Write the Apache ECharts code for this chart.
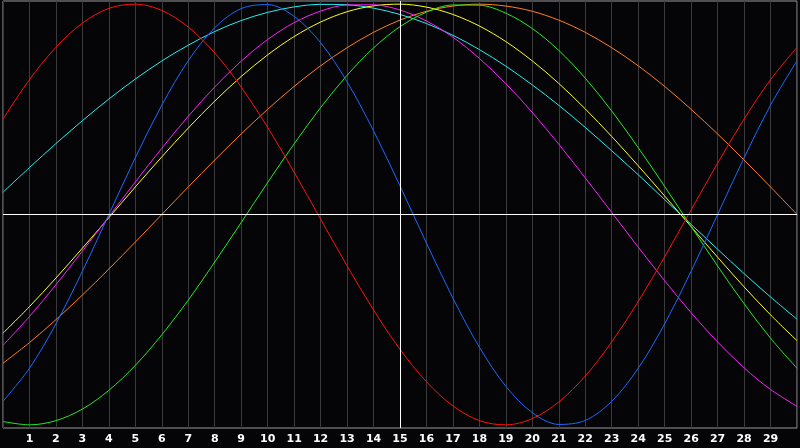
<!DOCTYPE html>
<html lang="en">
<head>
    <meta charset="UTF-8">
    <title>Biorhythm</title>
    <style>
        html, body { margin: 0; padding: 0; background: #050508; }
        #chart { width: 800px; height: 448px; }
    </style>
</head>
<body>
    <div id="chart"></div>
    <script src="https://cdn.jsdelivr.net/npm/echarts@6/dist/echarts.min.js"></script>
    <script>
        // day positions 0..30 (labels shown for 1..29)
        var days = [0, 1, 2, 3, 4, 5, 6, 7, 8, 9, 10, 11, 12, 13, 14, 15, 16, 17, 18, 19, 20, 21, 22, 23, 24, 25, 26, 27, 28, 29, 30];

        var red = [0.454, 0.641, 0.795, 0.910, 0.980, 1.000, 0.970, 0.891, 0.768, 0.606, 0.414, 0.201, -0.022, -0.244, -0.454, -0.641,
            -0.795, -0.910, -0.980, -1.000, -0.970, -0.891, -0.768, -0.606, -0.414, -0.201, 0.022, 0.244, 0.454, 0.641, 0.795];
        var blue = [-0.888, -0.731, -0.520, -0.270, 0, 0.270, 0.520, 0.731, 0.888, 0.979, 0.998, 0.942, 0.817, 0.631, 0.398, 0.136,
            -0.136, -0.398, -0.631, -0.817, -0.942, -0.998, -0.979, -0.888, -0.731, -0.520, -0.270, 0, 0.270, 0.520, 0.731];
        var green = [-0.984, -1.000, -0.980, -0.925, -0.836, -0.717, -0.572, -0.407, -0.226, -0.038, 0.152, 0.336, 0.508, 0.662, 0.792, 0.893,
            0.962, 0.996, 0.995, 0.957, 0.884, 0.780, 0.648, 0.492, 0.318, 0.133, -0.057, -0.245, -0.424, -0.588, -0.731];
        var magenta = [-0.622, -0.485, -0.334, -0.174, -0.010, 0.155, 0.315, 0.467, 0.606, 0.729, 0.832, 0.912, 0.967, 0.996, 0.997, 0.972,
            0.920, 0.843, 0.742, 0.622, 0.485, 0.334, 0.174, 0.010, -0.155, -0.315, -0.467, -0.606, -0.729, -0.832, -0.912];
        var yellow = [-0.564, -0.438, -0.302, -0.160, -0.015, 0.131, 0.274, 0.411, 0.539, 0.656, 0.759, 0.846, 0.915, 0.964, 0.992, 1.000,
            0.986, 0.951, 0.896, 0.822, 0.730, 0.623, 0.502, 0.371, 0.232, 0.088, -0.058, -0.203, -0.344, -0.477, -0.600];
        var orange = [-0.707, -0.609, -0.500, -0.383, -0.259, -0.131, 0, 0.131, 0.259, 0.383, 0.500, 0.609, 0.707, 0.793, 0.866, 0.924,
            0.966, 0.991, 1.000, 0.991, 0.966, 0.924, 0.866, 0.793, 0.707, 0.609, 0.500, 0.383, 0.259, 0.131, 0];
        var cyan = [0.106, 0.223, 0.337, 0.446, 0.549, 0.644, 0.730, 0.805, 0.870, 0.922, 0.961, 0.987, 0.999, 0.997, 0.981, 0.951,
            0.908, 0.852, 0.784, 0.705, 0.616, 0.519, 0.414, 0.303, 0.189, 0.071, -0.047, -0.165, -0.281, -0.392, -0.498];

        function pairs(vals) {
            return days.map(function (d, i) { return [d, vals[i]]; });
        }

        function curve(vals, color) {
            return {
                type: 'line',
                data: pairs(vals),
                smooth: 0.33,
                symbol: 'none',
                silent: true,
                lineStyle: { color: color, width: 1 }
            };
        }

        var series = [
            curve(orange, '#ff8020'),
            curve(cyan, '#20f0f0'),
            curve(yellow, '#ffff20'),
            curve(magenta, '#ff20ff'),
            curve(green, '#20ee20'),
            curve(blue, '#1a6aff'),
            curve(red, '#ff1010')
        ];

        // white cross lines at day 15 and at zero
        series.push({
            type: 'line',
            data: [],
            silent: true,
            markLine: {
                silent: true,
                symbol: 'none',
                label: { show: false },
                lineStyle: { color: '#ffffff', width: 1, type: 'solid' },
                data: [{ xAxis: 15 }, { yAxis: 0 }]
            }
        });

        var chart = echarts.init(document.getElementById('chart'));
        chart.setOption({
            animation: false,
            backgroundColor: '#050508',
            grid: {
                left: 1, right: 1, top: 1, bottom: 20,
                show: true,
                borderColor: '#9a9a9a',
                borderWidth: 1
            },
            xAxis: {
                type: 'value',
                min: 0,
                max: 30,
                interval: 1,
                axisLine: { show: false },
                axisTick: { show: false },
                splitLine: { show: true, lineStyle: { color: '#3a3a3a', width: 1 } },
                axisLabel: {
                    color: '#ffffff',
                    fontFamily: 'DejaVu Sans',
                    fontWeight: 'bold',
                    fontSize: 11,
                    margin: 6,
                    formatter: function (v) { return (v > 0 && v < 30) ? String(v) : ''; }
                }
            },
            yAxis: {
                type: 'value',
                min: -1.015,
                max: 1.015,
                axisLine: { show: false },
                axisTick: { show: false },
                axisLabel: { show: false },
                splitLine: { show: false }
            },
            series: series
        });
    </script>
</body>
</html>
